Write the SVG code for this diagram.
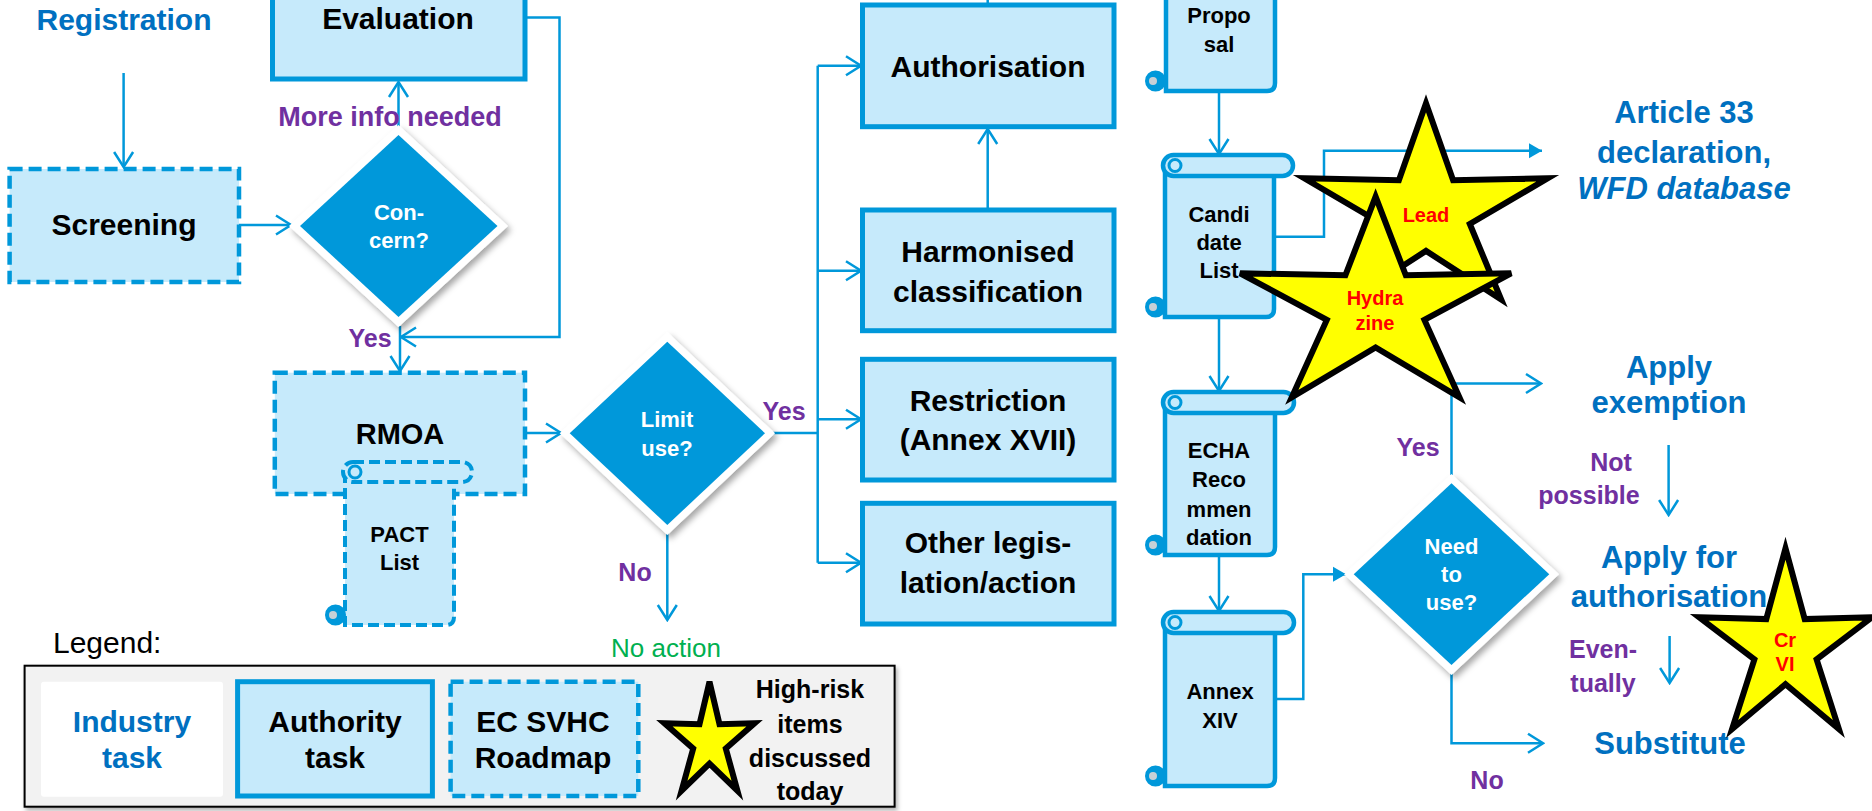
<svg xmlns="http://www.w3.org/2000/svg" width="1872" height="811" viewBox="0 0 1872 811">
<style>
.box{fill:#C6EAFB;stroke:#0098DA;stroke-width:5}
.dbox{fill:#C6EAFB;stroke:#0098DA;stroke-width:4.5;stroke-dasharray:13 6}
.conn{fill:none;stroke:#0098DA;stroke-width:2.5}
.dia{fill:#0098DA}
.diaw{fill:#FFFFFF;filter:url(#sh)}
.star{fill:#FFFF00;stroke:#000;stroke-width:6;stroke-linejoin:miter}
.t{font-family:"Liberation Sans",Arial,sans-serif;text-anchor:middle}
.b{font-weight:bold}
.k{fill:#000}
.w{fill:#FFF}
.bl{fill:#0070C0}
.pu{fill:#7030A0}
.gr{fill:#00B050}
.rd{fill:#FF0000}
.scb{fill:#C6EAFB;stroke:#0098DA;stroke-width:4.5}
.dsc{fill:#C6EAFB;stroke:#0098DA;stroke-width:4;stroke-dasharray:11 5}
.cu1{fill:#C6EAFB;stroke:#0098DA;stroke-width:3}
.cu2{fill:#0098DA;stroke:#0098DA;stroke-width:2}
.cu3{fill:#C8D0D6}
</style>
<defs>
<filter id="sh" x="-20%" y="-20%" width="140%" height="140%">
<feDropShadow dx="3" dy="4" stdDeviation="3" flood-color="#000" flood-opacity="0.35"/>
</filter>
<filter id="sh2" x="-5%" y="-5%" width="110%" height="115%">
<feDropShadow dx="2" dy="3" stdDeviation="2" flood-color="#000" flood-opacity="0.3"/>
</filter>
<marker id="ao" markerUnits="userSpaceOnUse" viewBox="-18 -12 20 24" markerWidth="20" markerHeight="24" refX="0" refY="0" orient="auto">
<path d="M-15,-9.5 L0,0 L-15,9.5" fill="none" stroke="#0098DA" stroke-width="2.5"/>
</marker>
<marker id="af" markerUnits="userSpaceOnUse" viewBox="-14 -9 16 18" markerWidth="16" markerHeight="18" refX="0" refY="0" orient="auto">
<path d="M-13,-7.5 L0,0 L-13,7.5 Z" fill="#0098DA"/>
</marker>
</defs>
<rect x="0" y="0" width="1872" height="811" fill="#FFFFFF"/>

<g id="connectors">
<path class="conn" d="M123.6,73 V167" marker-end="url(#ao)"/>
<path class="conn" d="M239,225 H291" marker-end="url(#ao)"/>
<path class="conn" d="M398.5,127 V82" marker-end="url(#ao)"/>
<path class="conn" d="M525,17.5 H559.5 V337 H401" marker-end="url(#ao)"/>
<path class="conn" d="M400,326 V371" marker-end="url(#ao)"/>
<path class="conn" d="M525,433 H561" marker-end="url(#ao)"/>
<path class="conn" d="M773,433 H817.7"/>
<path class="conn" d="M817.7,65.7 V562.7"/>
<path class="conn" d="M817.7,65.7 H861" marker-end="url(#ao)"/>
<path class="conn" d="M817.7,270.7 H861" marker-end="url(#ao)"/>
<path class="conn" d="M817.7,419.3 H861" marker-end="url(#ao)"/>
<path class="conn" d="M817.7,562.7 H861" marker-end="url(#ao)"/>
<path class="conn" d="M987.7,210 V129" marker-end="url(#ao)"/>
<path class="conn" d="M987.7,0 V6"/>
<path class="conn" d="M667.3,533 V620" marker-end="url(#ao)"/>
<path class="conn" d="M1219,91 V154" marker-end="url(#ao)"/>
<path class="conn" d="M1274,236.7 H1324 V150.7 H1542" marker-end="url(#af)"/>
<path class="conn" d="M1219,317 V391" marker-end="url(#ao)"/>
<path class="conn" d="M1219,555 V611" marker-end="url(#ao)"/>
<path class="conn" d="M1276,699 H1303.3 V574.2 H1346" marker-end="url(#af)"/>
<path class="conn" d="M1451.5,475 V383.5 H1541" marker-end="url(#ao)"/>
<path class="conn" d="M1668.6,445 V515" marker-end="url(#ao)"/>
<path class="conn" d="M1669.6,636 V683" marker-end="url(#ao)"/>
<path class="conn" d="M1451.5,673 V743.3 H1543" marker-end="url(#ao)"/>
</g>

<g id="registration">
<text class="t b bl" x="124" y="30" font-size="30">Registration</text>
</g>

<g id="evaluation">
<rect class="box" x="272.5" y="-20" width="252.5" height="99"/>
<text class="t b k" x="398" y="29" font-size="30">Evaluation</text>
</g>

<g id="more-info-label">
<text class="t b pu" x="390" y="126" font-size="27">More info needed</text>
</g>

<g id="screening">
<rect class="dbox" x="9.6" y="169" width="229.4" height="113"/>
<text class="t b k" x="124" y="235" font-size="30">Screening</text>
</g>

<g id="concern">
<polygon class="diaw" points="398.5,125 508,226 398.5,327 289,226"/>
<polygon class="dia" points="398.5,135 497.5,226 398.5,317 300,226"/>
<text class="t b w" font-size="22"><tspan x="399" y="220">Con-</tspan><tspan x="399" y="248">cern?</tspan></text>
</g>

<g id="yes-concern">
<text class="t b pu" x="370" y="347" font-size="25">Yes</text>
</g>

<g id="rmoa">
<rect class="dbox" x="274.8" y="372.7" width="250.2" height="121.3"/>
<text class="t b k" x="400" y="444" font-size="29">RMOA</text>
</g>

<g id="pact-list">
<path class="dsc" d="M345,472 V625 H446 Q454,625 454,617 V472 Z"/>
<rect class="dsc" x="343" y="462" width="129" height="20" rx="10"/>
<circle class="cu1" cx="355" cy="472" r="6"/>
<circle class="cu2" cx="335.5" cy="615" r="9.5"/>
<circle class="cu3" cx="333" cy="615" r="4"/>
<text class="t b k" font-size="22"><tspan x="399.5" y="542">PACT</tspan><tspan x="399.5" y="570">List</tspan></text>
</g>

<g id="limit-use">
<polygon class="diaw" points="667.3,332 775,433.3 667.3,535 559.7,433.3"/>
<polygon class="dia" points="667.3,341.7 765,433.3 667.3,525 569.7,433.3"/>
<text class="t b w" font-size="22"><tspan x="667" y="427">Limit</tspan><tspan x="667" y="456">use?</tspan></text>
</g>

<g id="limit-labels">
<text class="t b pu" x="784" y="420" font-size="25">Yes</text>
<text class="t b pu" x="635" y="581" font-size="25">No</text>
</g>

<g id="no-action">
<text class="t gr" x="666" y="657" font-size="26">No action</text>
</g>

<g id="authorisation">
<rect class="box" x="862.5" y="5" width="251.5" height="121.7"/>
<text class="t b k" x="988" y="77" font-size="30">Authorisation</text>
</g>

<g id="harmonised">
<rect class="box" x="862.5" y="210" width="251.5" height="120.7"/>
<text class="t b k" font-size="30"><tspan x="988" y="262">Harmonised</tspan><tspan x="988" y="302">classification</tspan></text>
</g>

<g id="restriction">
<rect class="box" x="862.5" y="359.3" width="251.5" height="120.7"/>
<text class="t b k" font-size="30"><tspan x="988" y="411">Restriction</tspan><tspan x="988" y="450">(Annex XVII)</tspan></text>
</g>

<g id="other">
<rect class="box" x="862.5" y="503.3" width="251.5" height="120.7"/>
<text class="t b k" font-size="30"><tspan x="988" y="553">Other legis-</tspan><tspan x="988" y="593">lation/action</tspan></text>
</g>

<g id="proposal">
<path class="scb" d="M1166,-10 V91 H1267 Q1275,91 1275,83 V-10 Z"/>
<circle class="cu2" cx="1155.5" cy="81" r="9.5"/>
<circle class="cu3" cx="1153" cy="81" r="4"/>
<text class="t b k" font-size="22"><tspan x="1219" y="23">Propo</tspan><tspan x="1219" y="52">sal</tspan></text>
</g>

<g id="candidate-list">
<path class="scb" d="M1165,165 V317 H1266 Q1274,317 1274,309 V165 Z"/>
<rect class="scb" x="1163" y="155" width="130" height="21" rx="10.5"/>
<circle class="cu1" cx="1175" cy="165.5" r="6"/>
<circle class="cu2" cx="1155.5" cy="307" r="9.5"/>
<circle class="cu3" cx="1153" cy="307" r="4"/>
<text class="t b k" font-size="22"><tspan x="1219" y="222">Candi</tspan><tspan x="1219" y="250">date</tspan><tspan x="1219" y="278">List</tspan></text>
</g>

<g id="echa-recommendation">
<path class="scb" d="M1165,402 V555 H1267 Q1275,555 1275,547 V402 Z"/>
<rect class="scb" x="1163" y="392" width="131" height="21" rx="10.5"/>
<circle class="cu1" cx="1175" cy="402.5" r="6"/>
<circle class="cu2" cx="1155.5" cy="545" r="9.5"/>
<circle class="cu3" cx="1153" cy="545" r="4"/>
<text class="t b k" font-size="22"><tspan x="1219" y="458">ECHA</tspan><tspan x="1219" y="487">Reco</tspan><tspan x="1219" y="517">mmen</tspan><tspan x="1219" y="545">dation</tspan></text>
</g>

<g id="annex-xiv">
<path class="scb" d="M1165,622 V786 H1267 Q1275,786 1275,778 V622 Z"/>
<rect class="scb" x="1163" y="612" width="131" height="21" rx="10.5"/>
<circle class="cu1" cx="1175" cy="622.5" r="6"/>
<circle class="cu2" cx="1155.5" cy="776" r="9.5"/>
<circle class="cu3" cx="1153" cy="776" r="4"/>
<text class="t b k" font-size="22"><tspan x="1220" y="699">Annex</tspan><tspan x="1220" y="728">XIV</tspan></text>
</g>

<g id="article-33">
<text class="t b bl" font-size="31"><tspan x="1684" y="123">Article 33</tspan><tspan x="1684" y="163">declaration,</tspan><tspan x="1684" y="199" font-style="italic">WFD database</tspan></text>
</g>

<g id="need-to-use">
<polygon class="diaw" points="1451.5,474 1559,574.2 1451.5,675 1344,574.2"/>
<polygon class="dia" points="1451.5,483.3 1549.3,574.2 1451.5,665 1353.7,574.2"/>
<text class="t b w" font-size="22"><tspan x="1451.5" y="554">Need</tspan><tspan x="1451.5" y="582">to</tspan><tspan x="1451.5" y="610">use?</tspan></text>
</g>

<g id="need-labels">
<text class="t b pu" x="1418" y="456" font-size="25">Yes</text>
<text class="t b pu" x="1487" y="789" font-size="25">No</text>
<text class="t b pu" font-size="25"><tspan x="1611" y="471">Not</tspan><tspan x="1589" y="504">possible</tspan></text>
<text class="t b pu" font-size="25"><tspan x="1603" y="658">Even-</tspan><tspan x="1603" y="692">tually</tspan></text>
</g>

<g id="apply-exemption">
<text class="t b bl" font-size="31"><tspan x="1669" y="378">Apply</tspan><tspan x="1669" y="413">exemption</tspan></text>
</g>

<g id="apply-authorisation">
<text class="t b bl" font-size="31"><tspan x="1669" y="568">Apply for</tspan><tspan x="1669" y="607">authorisation</tspan></text>
</g>

<g id="substitute">
<text class="t b bl" x="1670" y="754" font-size="31">Substitute</text>
</g>

<g id="star-lead">
<polygon class="star" points="1426,103.3 1453.1,180.2 1547.7,178.3 1469.8,223.9 1501.2,299.6 1426,250.9 1350.8,299.6 1382.2,223.9 1304.3,178.3 1398.9,180.2"/>
<text class="t b rd" x="1426" y="222" font-size="20">Lead</text>
</g>

<g id="star-hydrazine">
<polygon class="star" points="1375.6,196.7 1405.8,275.3 1511.1,273.3 1424.4,319.9 1459.4,397.3 1375.6,347.5 1291.8,397.3 1326.8,319.9 1240.1,273.3 1345.4,275.3"/>
<text class="t b rd" font-size="20"><tspan x="1375" y="305">Hydra</tspan><tspan x="1375" y="330">zine</tspan></text>
</g>

<g id="star-crvi">
<polygon class="star" points="1785.5,548.3 1804.7,619.1 1871.9,617.3 1816.6,659.3 1838.9,729 1785.5,684.2 1732.1,729 1754.4,659.3 1699.1,617.3 1766.3,619.1"/>
<text class="t b rd" font-size="20"><tspan x="1785" y="647">Cr</tspan><tspan x="1785" y="671">VI</tspan></text>
</g>

<g id="legend">
<text x="53" y="653" font-family="Liberation Sans, Arial, sans-serif" font-size="30" fill="#000">Legend:</text>
<rect x="24.6" y="665.7" width="870" height="141" fill="#F2F2F2" stroke="#000" stroke-width="2" filter="url(#sh2)"/>
<rect x="41" y="681.7" width="182" height="115" rx="3" fill="#FFFFFF"/>
<text class="t b bl" font-size="30"><tspan x="132" y="732">Industry</tspan><tspan x="132" y="768">task</tspan></text>
<rect class="box" x="237.6" y="681.7" width="194.8" height="114.3"/>
<text class="t b k" font-size="30"><tspan x="335" y="732">Authority</tspan><tspan x="335" y="768">task</tspan></text>
<rect class="dbox" x="450.6" y="681.7" width="187.7" height="114.3"/>
<text class="t b k" font-size="30"><tspan x="543" y="732">EC SVHC</tspan><tspan x="543" y="768">Roadmap</tspan></text>
<polygon class="star" stroke-width="5" points="709.5,681.7 719.5,724.3 754.6,723.3 725.8,748.6 737.4,790.6 709.5,763.6 681.6,790.6 693.2,748.6 664.4,723.3 699.5,724.3"/>
<text class="t b k" font-size="25"><tspan x="810" y="698">High-risk</tspan><tspan x="810" y="733">items</tspan><tspan x="810" y="767">discussed</tspan><tspan x="810" y="800">today</tspan></text>
</g>
</svg>
